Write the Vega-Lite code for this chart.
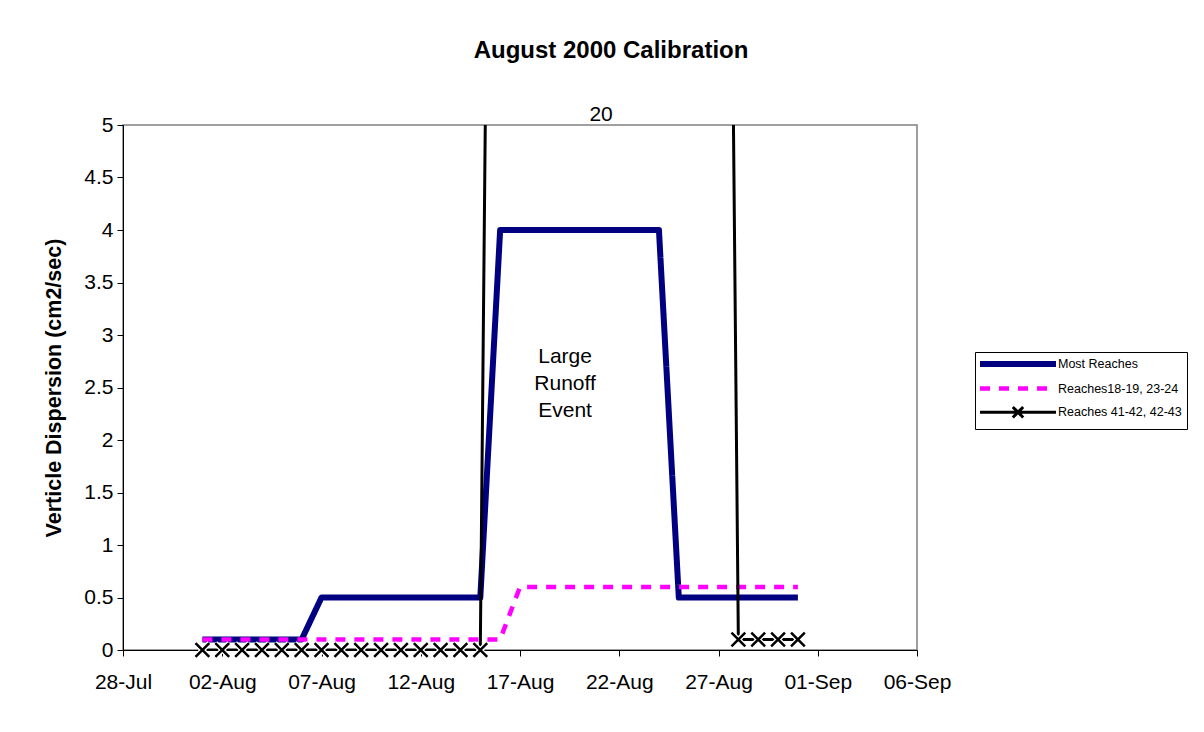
{
  "$schema": "https://vega.github.io/schema/vega-lite/v6.json",
  "width": 794,
  "height": 525,
  "autosize": {"type": "none"},
  "padding": {"left": 123, "top": 125, "right": 287, "bottom": 82},
  "background": "white",
  "config": {
    "font": "Liberation Sans",
    "view": {"stroke": "#808080", "strokeWidth": 1.5},
    "axis": {"labelFont": "Liberation Sans", "labelColor": "black", "titleFont": "Liberation Sans", "titleColor": "black", "domainColor": "black", "tickColor": "black", "grid": false}
  },
  "title": {
    "text": "August 2000 Calibration",
    "fontSize": 24,
    "fontWeight": "bold",
    "font": "Liberation Sans",
    "color": "black",
    "anchor": "middle",
    "frame": "group",
    "dx": 91,
    "offset": 41
  },
  "data": {
    "values": [
      {"date": "2000-08-01T00:00", "series": "Most Reaches", "value": 0.1},
      {"date": "2000-08-02T00:00", "series": "Most Reaches", "value": 0.1},
      {"date": "2000-08-03T00:00", "series": "Most Reaches", "value": 0.1},
      {"date": "2000-08-04T00:00", "series": "Most Reaches", "value": 0.1},
      {"date": "2000-08-05T00:00", "series": "Most Reaches", "value": 0.1},
      {"date": "2000-08-06T00:00", "series": "Most Reaches", "value": 0.1},
      {"date": "2000-08-07T00:00", "series": "Most Reaches", "value": 0.5},
      {"date": "2000-08-08T00:00", "series": "Most Reaches", "value": 0.5},
      {"date": "2000-08-09T00:00", "series": "Most Reaches", "value": 0.5},
      {"date": "2000-08-10T00:00", "series": "Most Reaches", "value": 0.5},
      {"date": "2000-08-11T00:00", "series": "Most Reaches", "value": 0.5},
      {"date": "2000-08-12T00:00", "series": "Most Reaches", "value": 0.5},
      {"date": "2000-08-13T00:00", "series": "Most Reaches", "value": 0.5},
      {"date": "2000-08-14T00:00", "series": "Most Reaches", "value": 0.5},
      {"date": "2000-08-15T00:00", "series": "Most Reaches", "value": 0.5},
      {"date": "2000-08-16T00:00", "series": "Most Reaches", "value": 4},
      {"date": "2000-08-17T00:00", "series": "Most Reaches", "value": 4},
      {"date": "2000-08-18T00:00", "series": "Most Reaches", "value": 4},
      {"date": "2000-08-19T00:00", "series": "Most Reaches", "value": 4},
      {"date": "2000-08-20T00:00", "series": "Most Reaches", "value": 4},
      {"date": "2000-08-21T00:00", "series": "Most Reaches", "value": 4},
      {"date": "2000-08-22T00:00", "series": "Most Reaches", "value": 4},
      {"date": "2000-08-23T00:00", "series": "Most Reaches", "value": 4},
      {"date": "2000-08-24T00:00", "series": "Most Reaches", "value": 4},
      {"date": "2000-08-25T00:00", "series": "Most Reaches", "value": 0.5},
      {"date": "2000-08-26T00:00", "series": "Most Reaches", "value": 0.5},
      {"date": "2000-08-27T00:00", "series": "Most Reaches", "value": 0.5},
      {"date": "2000-08-28T00:00", "series": "Most Reaches", "value": 0.5},
      {"date": "2000-08-29T00:00", "series": "Most Reaches", "value": 0.5},
      {"date": "2000-08-30T00:00", "series": "Most Reaches", "value": 0.5},
      {"date": "2000-08-31T00:00", "series": "Most Reaches", "value": 0.5},
      {"date": "2000-08-01T00:00", "series": "Reaches18-19, 23-24", "value": 0.1},
      {"date": "2000-08-02T00:00", "series": "Reaches18-19, 23-24", "value": 0.1},
      {"date": "2000-08-03T00:00", "series": "Reaches18-19, 23-24", "value": 0.1},
      {"date": "2000-08-04T00:00", "series": "Reaches18-19, 23-24", "value": 0.1},
      {"date": "2000-08-05T00:00", "series": "Reaches18-19, 23-24", "value": 0.1},
      {"date": "2000-08-06T00:00", "series": "Reaches18-19, 23-24", "value": 0.1},
      {"date": "2000-08-07T00:00", "series": "Reaches18-19, 23-24", "value": 0.1},
      {"date": "2000-08-08T00:00", "series": "Reaches18-19, 23-24", "value": 0.1},
      {"date": "2000-08-09T00:00", "series": "Reaches18-19, 23-24", "value": 0.1},
      {"date": "2000-08-10T00:00", "series": "Reaches18-19, 23-24", "value": 0.1},
      {"date": "2000-08-11T00:00", "series": "Reaches18-19, 23-24", "value": 0.1},
      {"date": "2000-08-12T00:00", "series": "Reaches18-19, 23-24", "value": 0.1},
      {"date": "2000-08-13T00:00", "series": "Reaches18-19, 23-24", "value": 0.1},
      {"date": "2000-08-14T00:00", "series": "Reaches18-19, 23-24", "value": 0.1},
      {"date": "2000-08-15T00:00", "series": "Reaches18-19, 23-24", "value": 0.1},
      {"date": "2000-08-16T00:00", "series": "Reaches18-19, 23-24", "value": 0.1},
      {"date": "2000-08-17T00:00", "series": "Reaches18-19, 23-24", "value": 0.6},
      {"date": "2000-08-18T00:00", "series": "Reaches18-19, 23-24", "value": 0.6},
      {"date": "2000-08-19T00:00", "series": "Reaches18-19, 23-24", "value": 0.6},
      {"date": "2000-08-20T00:00", "series": "Reaches18-19, 23-24", "value": 0.6},
      {"date": "2000-08-21T00:00", "series": "Reaches18-19, 23-24", "value": 0.6},
      {"date": "2000-08-22T00:00", "series": "Reaches18-19, 23-24", "value": 0.6},
      {"date": "2000-08-23T00:00", "series": "Reaches18-19, 23-24", "value": 0.6},
      {"date": "2000-08-24T00:00", "series": "Reaches18-19, 23-24", "value": 0.6},
      {"date": "2000-08-25T00:00", "series": "Reaches18-19, 23-24", "value": 0.6},
      {"date": "2000-08-26T00:00", "series": "Reaches18-19, 23-24", "value": 0.6},
      {"date": "2000-08-27T00:00", "series": "Reaches18-19, 23-24", "value": 0.6},
      {"date": "2000-08-28T00:00", "series": "Reaches18-19, 23-24", "value": 0.6},
      {"date": "2000-08-29T00:00", "series": "Reaches18-19, 23-24", "value": 0.6},
      {"date": "2000-08-30T00:00", "series": "Reaches18-19, 23-24", "value": 0.6},
      {"date": "2000-08-31T00:00", "series": "Reaches18-19, 23-24", "value": 0.6},
      {"date": "2000-08-01T00:00", "series": "Reaches 41-42, 42-43", "value": 0},
      {"date": "2000-08-02T00:00", "series": "Reaches 41-42, 42-43", "value": 0},
      {"date": "2000-08-03T00:00", "series": "Reaches 41-42, 42-43", "value": 0},
      {"date": "2000-08-04T00:00", "series": "Reaches 41-42, 42-43", "value": 0},
      {"date": "2000-08-05T00:00", "series": "Reaches 41-42, 42-43", "value": 0},
      {"date": "2000-08-06T00:00", "series": "Reaches 41-42, 42-43", "value": 0},
      {"date": "2000-08-07T00:00", "series": "Reaches 41-42, 42-43", "value": 0},
      {"date": "2000-08-08T00:00", "series": "Reaches 41-42, 42-43", "value": 0},
      {"date": "2000-08-09T00:00", "series": "Reaches 41-42, 42-43", "value": 0},
      {"date": "2000-08-10T00:00", "series": "Reaches 41-42, 42-43", "value": 0},
      {"date": "2000-08-11T00:00", "series": "Reaches 41-42, 42-43", "value": 0},
      {"date": "2000-08-12T00:00", "series": "Reaches 41-42, 42-43", "value": 0},
      {"date": "2000-08-13T00:00", "series": "Reaches 41-42, 42-43", "value": 0},
      {"date": "2000-08-14T00:00", "series": "Reaches 41-42, 42-43", "value": 0},
      {"date": "2000-08-15T00:00", "series": "Reaches 41-42, 42-43", "value": 0},
      {"date": "2000-08-16T00:00", "series": "Reaches 41-42, 42-43", "value": 20},
      {"date": "2000-08-17T00:00", "series": "Reaches 41-42, 42-43", "value": 20},
      {"date": "2000-08-18T00:00", "series": "Reaches 41-42, 42-43", "value": 20},
      {"date": "2000-08-19T00:00", "series": "Reaches 41-42, 42-43", "value": 20},
      {"date": "2000-08-20T00:00", "series": "Reaches 41-42, 42-43", "value": 20},
      {"date": "2000-08-21T00:00", "series": "Reaches 41-42, 42-43", "value": 20},
      {"date": "2000-08-22T00:00", "series": "Reaches 41-42, 42-43", "value": 20},
      {"date": "2000-08-23T00:00", "series": "Reaches 41-42, 42-43", "value": 20},
      {"date": "2000-08-24T00:00", "series": "Reaches 41-42, 42-43", "value": 20},
      {"date": "2000-08-25T00:00", "series": "Reaches 41-42, 42-43", "value": 20},
      {"date": "2000-08-26T00:00", "series": "Reaches 41-42, 42-43", "value": 20},
      {"date": "2000-08-27T00:00", "series": "Reaches 41-42, 42-43", "value": 20},
      {"date": "2000-08-28T00:00", "series": "Reaches 41-42, 42-43", "value": 0.1},
      {"date": "2000-08-29T00:00", "series": "Reaches 41-42, 42-43", "value": 0.1},
      {"date": "2000-08-30T00:00", "series": "Reaches 41-42, 42-43", "value": 0.1},
      {"date": "2000-08-31T00:00", "series": "Reaches 41-42, 42-43", "value": 0.1}
    ]
  },
  "encoding": {
    "x": {
      "field": "date",
      "type": "temporal",
      "scale": {"domain": [{"year": 2000, "month": "jul", "date": 28}, {"year": 2000, "month": "sep", "date": 6}]},
      "axis": {
        "title": null,
        "format": "%d-%b",
        "values": [
          {"year": 2000, "month": "jul", "date": 28},
          {"year": 2000, "month": "aug", "date": 2},
          {"year": 2000, "month": "aug", "date": 7},
          {"year": 2000, "month": "aug", "date": 12},
          {"year": 2000, "month": "aug", "date": 17},
          {"year": 2000, "month": "aug", "date": 22},
          {"year": 2000, "month": "aug", "date": 27},
          {"year": 2000, "month": "sep", "date": 1},
          {"year": 2000, "month": "sep", "date": 6}
        ],
        "labelFontSize": 21,
        "labelPadding": 15,
        "tickSize": 6,
        "labelFlush": false,
        "labelOverlap": false
      }
    },
    "y": {
      "field": "value",
      "type": "quantitative",
      "scale": {"domain": [0, 5], "nice": false, "zero": false},
      "axis": {
        "title": "Verticle Dispersion (cm2/sec)",
        "titleFontSize": 21.5,
        "titleFontWeight": "bold",
        "titlePadding": 18,
        "values": [0, 0.5, 1, 1.5, 2, 2.5, 3, 3.5, 4, 4.5, 5],
        "format": "~g",
        "labelFontSize": 21,
        "labelPadding": 4,
        "tickSize": 6,
        "labelFlush": false,
        "labelOverlap": false
      }
    }
  },
  "layer": [
    {
      "mark": {"type": "line", "clip": true, "strokeJoin": "round"},
      "encoding": {
        "color": {
          "field": "series",
          "type": "nominal",
          "scale": {
            "domain": ["Most Reaches", "Reaches18-19, 23-24", "Reaches 41-42, 42-43"],
            "range": ["#000080", "#FF00FF", "#000000"]
          },
          "legend": {
            "orient": "none",
            "legendX": 852,
            "legendY": 227,
            "title": null,
            "strokeColor": "black",
            "fillColor": "white",
            "padding": 5,
            "labelFont": "Liberation Sans",
            "labelFontSize": 12.5,
            "labelColor": "black",
            "labelOffset": 33,
            "symbolType": "M-9.5,0L9.5,0",
            "symbolSize": 64,
            "symbolOffset": 31,
            "rowPadding": 3,
            "encode": {
              "symbols": {
                "update": {
                  "shape": {"signal": "datum.value === 'Reaches 41-42, 42-43' ? 'M-9.5,0L9.5,0M-1.3,-1.3L1.3,1.3M-1.3,1.3L1.3,-1.3' : 'M-9.5,0L9.5,0'"}
                }
              }
            }
          }
        },
        "strokeDash": {
          "field": "series",
          "type": "nominal",
          "scale": {
            "domain": ["Most Reaches", "Reaches18-19, 23-24", "Reaches 41-42, 42-43"],
            "range": [[1, 0], [10, 9], [1, 0]]
          }
        },
        "strokeWidth": {
          "field": "series",
          "type": "nominal",
          "scale": {
            "domain": ["Most Reaches", "Reaches18-19, 23-24", "Reaches 41-42, 42-43"],
            "range": [6, 3, 2]
          }
        }
      }
    },
    {
      "transform": [{"filter": "datum.series === 'Reaches 41-42, 42-43' && datum.value <= 5"}],
      "mark": {"type": "point", "shape": "M-1,-1L1,1M-1,1L1,-1", "size": 190, "filled": false, "stroke": "white", "strokeWidth": 5, "opacity": 1, "clip": false}
    },
    {
      "transform": [{"filter": "datum.series === 'Reaches 41-42, 42-43' && datum.value <= 5"}],
      "mark": {"type": "point", "shape": "M-1,-1L1,1M-1,1L1,-1", "size": 190, "filled": false, "stroke": "black", "strokeWidth": 2.5, "opacity": 1, "clip": false}
    },
    {
      "data": {
        "values": [
          {"date": "2000-08-19T06:30", "value": 2.79, "label": "Large\nRunoff\nEvent"},
          {"date": "2000-08-21T02:00", "value": 5.1, "label": "20"}
        ]
      },
      "mark": {"type": "text", "fontSize": 21, "lineHeight": 27, "lineBreak": "\n", "align": "center", "baseline": "middle", "color": "black", "clip": false, "font": "Liberation Sans"},
      "encoding": {"text": {"field": "label", "type": "nominal"}}
    }
  ]
}
